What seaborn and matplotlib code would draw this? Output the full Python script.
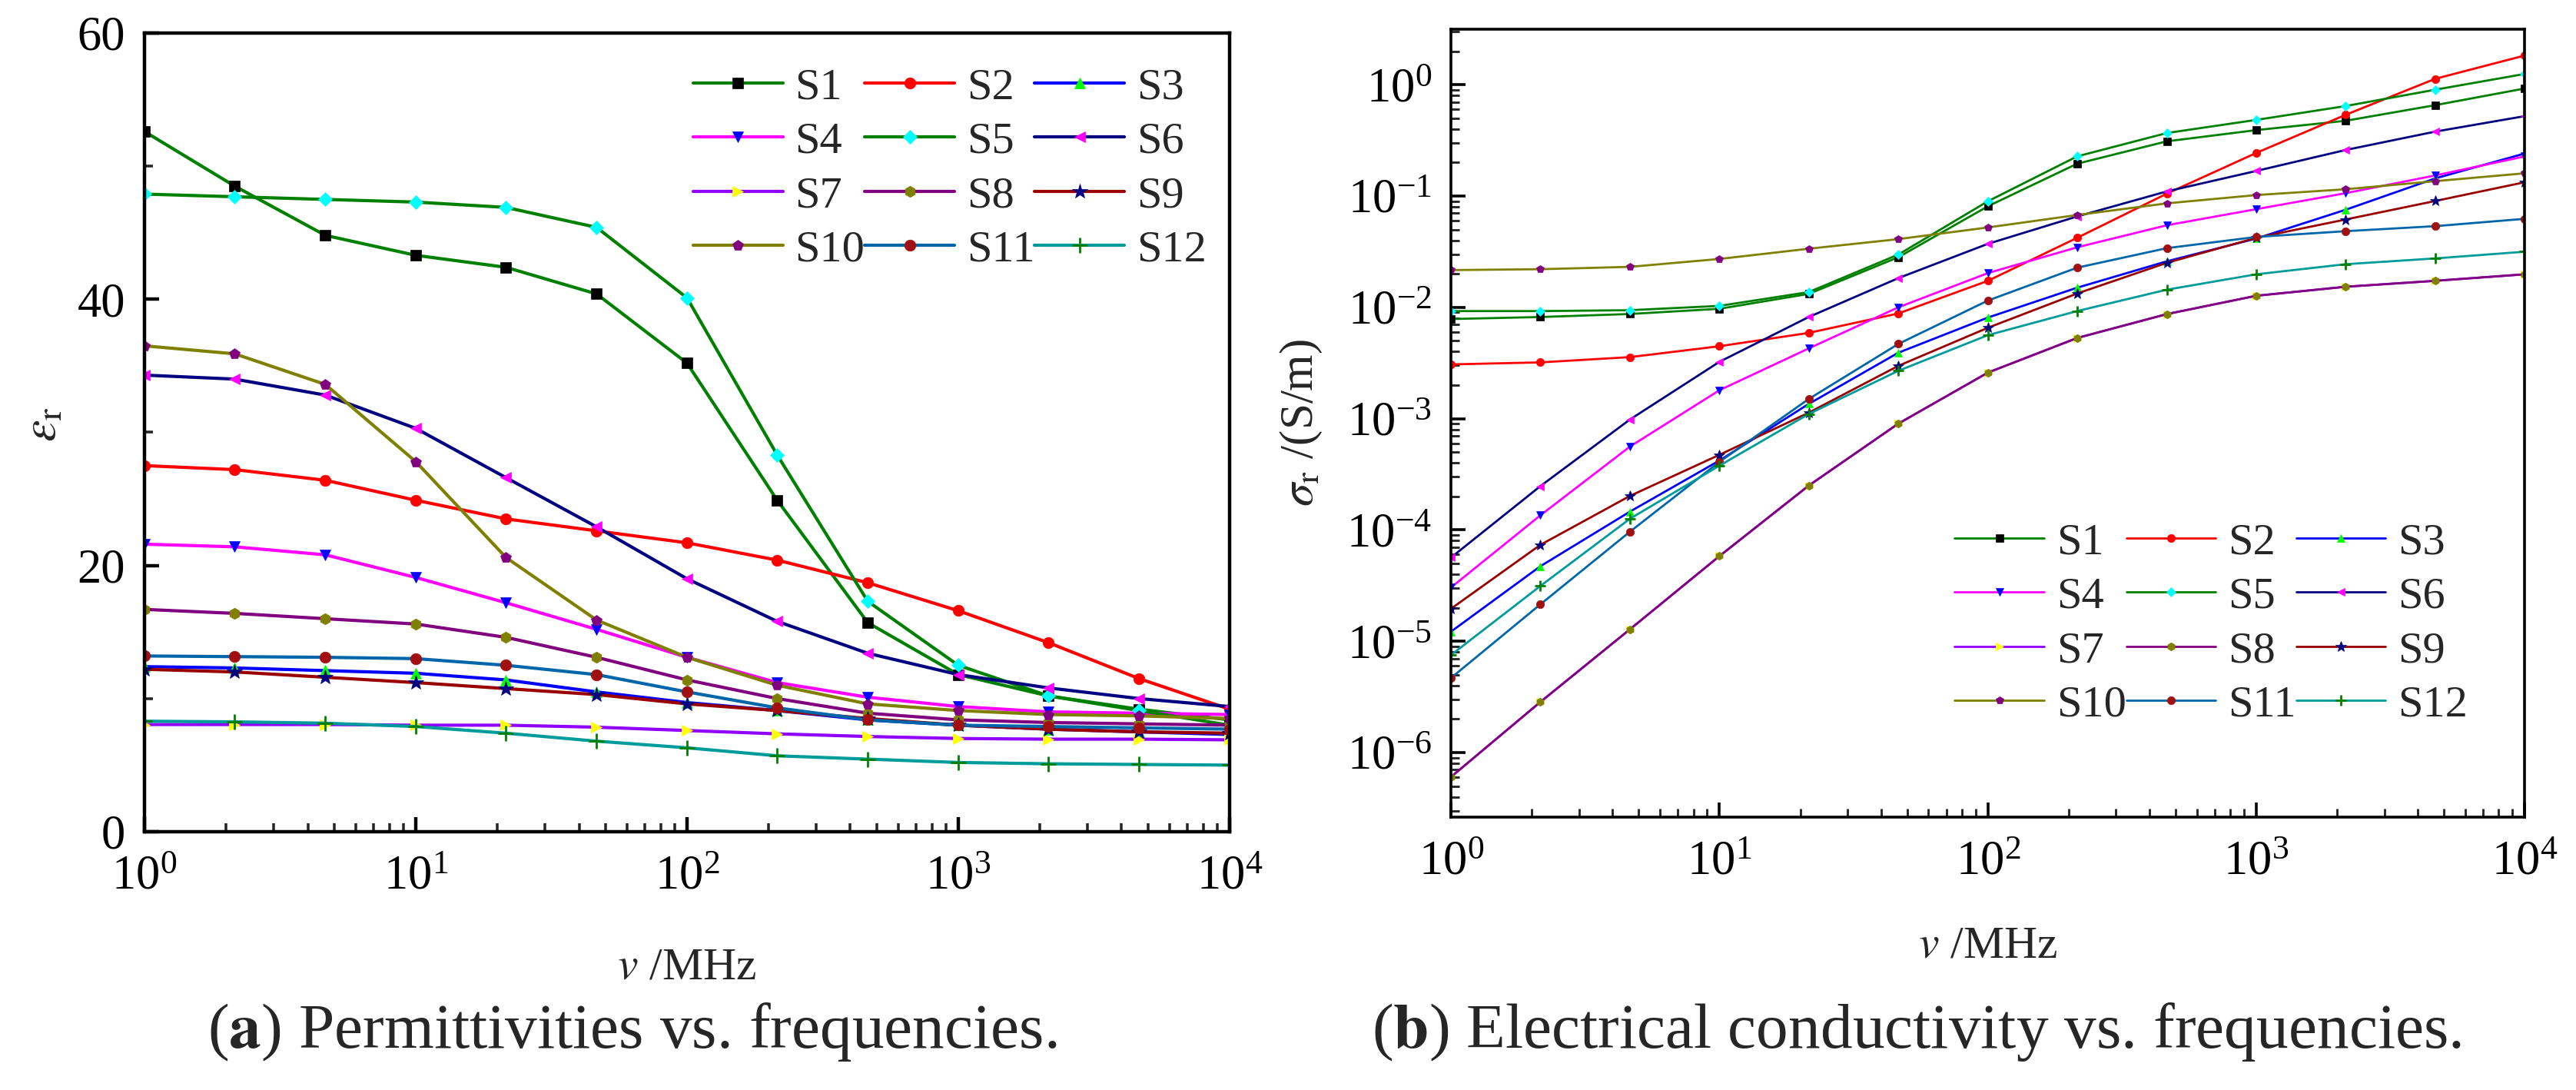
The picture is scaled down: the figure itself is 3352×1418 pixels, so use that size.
import matplotlib
matplotlib.use("Agg")
import numpy as np
import matplotlib.pyplot as plt
import seaborn as sns
from matplotlib.ticker import LogLocator, MultipleLocator, FixedLocator, NullFormatter, LogFormatterMathtext

sns.set_style("ticks")
plt.rcParams['font.family'] = ['Liberation Serif', 'DejaVu Serif']
plt.rcParams['mathtext.fontset'] = 'stix'
plt.rcParams['axes.edgecolor'] = 'black'

# frequencies (MHz), three points per decade
freq = [1, 2.15, 4.64, 10, 21.5, 46.4, 100, 215, 464, 1000, 2150, 4640, 10000]

names = ['S1', 'S2', 'S3', 'S4', 'S5', 'S6', 'S7', 'S8', 'S9', 'S10', 'S11', 'S12']
line_colors = ['#008000', '#FF0000', '#0000FF', '#FF00FF', '#008000', '#000080',
               '#8F00FF', '#800080', '#990000', '#808000', '#0066AA', '#009B9B']
marker_styles = ['s', 'o', '^', 'v', 'D', '<', '>', 'h', '*', 'p', 'o', '+']
marker_colors = ['#000000', '#FF0000', '#00FF00', '#0000FF', '#00FFFF', '#FF00FF',
                 '#FFFF00', '#808000', '#000080', '#800080', '#A01010', '#008000']

# (a) relative permittivity
eps_s1 = [52.6, 48.5, 44.8, 43.3, 42.4, 40.4, 35.2, 24.9, 15.7, 11.8, 10.2, 9.2, 8.4]
eps_s2 = [27.5, 27.2, 26.4, 24.9, 23.5, 22.6, 21.7, 20.4, 18.7, 16.6, 14.2, 11.5, 9.2]
eps_s3 = [12.4, 12.3, 12.1, 11.9, 11.4, 10.5, 9.7, 9.1, 8.4, 8.0, 7.7, 7.5, 7.3]
eps_s4 = [21.6, 21.4, 20.8, 19.1, 17.2, 15.2, 13.1, 11.2, 10.1, 9.4, 9.0, 8.9, 8.8]
eps_s5 = [47.9, 47.7, 47.5, 47.3, 46.9, 45.4, 40.1, 28.3, 17.3, 12.5, 10.2, 9.1, 8.0]
eps_s6 = [34.3, 34.0, 32.8, 30.3, 26.6, 22.9, 19.0, 15.8, 13.4, 11.8, 10.8, 10.0, 9.4]
eps_s7 = [8.05, 8.05, 8.05, 8.0, 8.0, 7.85, 7.6, 7.35, 7.15, 7.0, 6.95, 6.95, 6.9]
eps_s8 = [16.7, 16.4, 16.0, 15.6, 14.6, 13.1, 11.4, 10.0, 8.9, 8.4, 8.2, 8.1, 8.0]
eps_s9 = [12.2, 12.0, 11.6, 11.2, 10.75, 10.3, 9.6, 9.1, 8.5, 8.0, 7.7, 7.5, 7.4]
eps_s10 = [36.5, 35.9, 33.6, 27.8, 20.6, 15.9, 13.1, 11.0, 9.6, 9.1, 8.8, 8.7, 8.5]
eps_s11 = [13.2, 13.15, 13.1, 13.0, 12.5, 11.8, 10.5, 9.3, 8.4, 8.0, 7.9, 7.8, 7.7]
eps_s12 = [8.3, 8.25, 8.15, 7.9, 7.4, 6.8, 6.3, 5.7, 5.45, 5.2, 5.1, 5.05, 5.0]

# (b) electrical conductivity, S/m
sig_s1 = [0.00785, 0.00818, 0.00871, 0.0097, 0.0132, 0.0282, 0.0809, 0.195, 0.310, 0.391, 0.474, 0.655, 0.925]
sig_s2 = [0.00307, 0.0032, 0.00357, 0.00447, 0.00589, 0.00881, 0.0173, 0.0421, 0.105, 0.244, 0.536, 1.13, 1.83]
sig_s3 = [1.22e-5, 4.71e-5, 1.46e-4, 4.20e-4, 1.355e-3, 3.91e-3, 8.09e-3, 0.015, 0.0259, 0.0415, 0.0752, 0.144, 0.241]
sig_s4 = [3.04e-5, 1.35e-4, 5.61e-4, 1.80e-3, 4.27e-3, 0.0100, 0.0203, 0.0346, 0.0546, 0.0762, 0.106, 0.153, 0.227]
sig_s5 = [0.00925, 0.00925, 0.00942, 0.0103, 0.0137, 0.0298, 0.0897, 0.227, 0.368, 0.483, 0.643, 0.902, 1.25]
sig_s6 = [5.65e-5, 2.47e-4, 9.82e-4, 3.24e-3, 8.18e-3, 0.0183, 0.0372, 0.0655, 0.110, 0.168, 0.259, 0.379, 0.522]
sig_s7 = [6.04e-7, 2.84e-6, 1.28e-5, 5.82e-5, 2.50e-4, 9.02e-4, 2.59e-3, 5.30e-3, 8.69e-3, 0.0127, 0.0153, 0.0173, 0.0198]
sig_s8 = [6.04e-7, 2.84e-6, 1.28e-5, 5.82e-5, 2.50e-4, 9.02e-4, 2.59e-3, 5.30e-3, 8.69e-3, 0.0127, 0.0153, 0.0173, 0.0198]
sig_s9 = [1.96e-5, 7.33e-5, 2.02e-4, 4.73e-4, 1.13e-3, 2.98e-3, 6.55e-3, 0.0133, 0.0251, 0.0421, 0.0615, 0.0902, 0.133]
sig_s10 = [0.0216, 0.0220, 0.0231, 0.0272, 0.0336, 0.0410, 0.0522, 0.0675, 0.0859, 0.102, 0.115, 0.136, 0.160]
sig_s11 = [4.68e-6, 2.14e-5, 9.64e-5, 4.09e-4, 1.50e-3, 4.69e-3, 0.0115, 0.0227, 0.0340, 0.0429, 0.0483, 0.0536, 0.0624]
sig_s12 = [7.52e-6, 3.13e-5, 1.26e-4, 3.78e-4, 1.10e-3, 2.69e-3, 5.62e-3, 9.25e-3, 0.0144, 0.0198, 0.0244, 0.0275, 0.0316]

# tick positions
eps_ticks = [0, 20, 40, 60]
sig_ticks = [1e-6, 1e-5, 1e-4, 1e-3, 1e-2, 1e-1, 1e0]
freq_ticks = [1, 10, 100, 1000, 10000]

eps_all = [eps_s1, eps_s2, eps_s3, eps_s4, eps_s5, eps_s6, eps_s7, eps_s8, eps_s9, eps_s10, eps_s11, eps_s12]
sig_all = [sig_s1, sig_s2, sig_s3, sig_s4, sig_s5, sig_s6, sig_s7, sig_s8, sig_s9, sig_s10, sig_s11, sig_s12]

fig = plt.figure(figsize=(33.52, 14.18), dpi=100)
ax1 = fig.add_axes([0.0561, 0.2370, 0.4212, 0.7327])
ax2 = fig.add_axes([0.5633, 0.2504, 0.4168, 0.7229])


def draw_series(ax, data, lw, ms):
    for i, vals in enumerate(data):
        m = marker_styles[i]
        size = ms * (1.4 if m in '*+' else (0.85 if m == 'D' else 1.0))
        sns.lineplot(x=freq, y=vals, ax=ax, color=line_colors[i], linewidth=lw,
                     marker=m, markersize=size,
                     markerfacecolor=marker_colors[i], markeredgecolor=marker_colors[i],
                     markeredgewidth=2 if m == '+' else 0.5,
                     label=names[i], estimator=None, legend=False)


draw_series(ax1, eps_all, 3.0, 10.5)
draw_series(ax2, sig_all, 2.0, 7.5)

# legend laid out row by row (S1 S2 S3 / S4 S5 S6 / ...)
order = [0, 3, 6, 9, 1, 4, 7, 10, 2, 5, 8, 11]


def add_legend(ax, x, y):
    h, l = ax.get_legend_handles_labels()
    ax.legend([h[i] for i in order], [l[i] for i in order], ncol=3, loc='upper left',
              bbox_to_anchor=(x, y), frameon=False, fontsize=42, handlelength=2.0,
              handletextpad=0.27, columnspacing=0.0, labelspacing=0.3,
              borderpad=0, borderaxespad=0)


add_legend(ax1, 0.5057, 0.957)
add_legend(ax2, 0.469, 0.374)

# axes (a)
ax1.set_xscale('log')
ax1.set_xlim(1, 1e4)
ax1.set_ylim(0, 60)
ax1.yaxis.set_major_locator(FixedLocator(eps_ticks))
ax1.yaxis.set_minor_locator(MultipleLocator(10))
ax1.set_ylabel(r'$\varepsilon_{\mathrm{r}}$', fontsize=46)
ax1.yaxis.set_label_coords(-0.072, 0.51)

# axes (b)
ax2.set_xscale('log')
ax2.set_yscale('log')
ax2.set_xlim(1, 1e4)
ax2.set_ylim(2.63e-7, 3.16)
ax2.yaxis.set_major_locator(FixedLocator(sig_ticks))
ax2.yaxis.set_major_formatter(LogFormatterMathtext())
ax2.yaxis.set_minor_locator(LogLocator(base=10, subs=np.arange(2, 10), numticks=100))
ax2.yaxis.set_minor_formatter(NullFormatter())
ax2.set_ylabel(r'$\sigma_{\mathrm{r}}$ /(S/m)', fontsize=44)
ax2.yaxis.set_label_coords(-0.118, 0.5)

for ax, sw, xl_y in [(ax1, 3.2, -0.145), (ax2, 2.6, -0.138)]:
    ax.xaxis.set_major_locator(FixedLocator(freq_ticks))
    ax.xaxis.set_major_formatter(LogFormatterMathtext())
    ax.xaxis.set_minor_locator(LogLocator(base=10, subs=np.arange(2, 10), numticks=100))
    ax.xaxis.set_minor_formatter(NullFormatter())
    for sp in ax.spines.values():
        sp.set_linewidth(sw)
        sp.set_color('black')
        sp.set_visible(True)
    ax.tick_params(which='major', direction='in', length=14, width=sw, labelsize=45,
                   top=False, right=False, colors='black')
    ax.tick_params(axis='y', which='major', pad=18)
    ax.tick_params(axis='x', which='major', pad=22)
    ax.tick_params(which='minor', direction='in', length=8, width=sw * 0.8,
                   top=False, right=False)
    ax.set_xlabel(r'$v$ /MHz', fontsize=43)
    ax.xaxis.set_label_coords(0.5, xl_y)
    ax.set_facecolor('white')

fig.text(0.2455, 0.0529, r'($\mathbf{a}$) Permittivities vs. frequencies.',
         ha='center', va='center', fontsize=60)
fig.text(0.744, 0.0529, r'($\mathbf{b}$) Electrical conductivity vs. frequencies.',
         ha='center', va='center', fontsize=60)

fig.savefig('out.png', dpi=100, facecolor='white')
